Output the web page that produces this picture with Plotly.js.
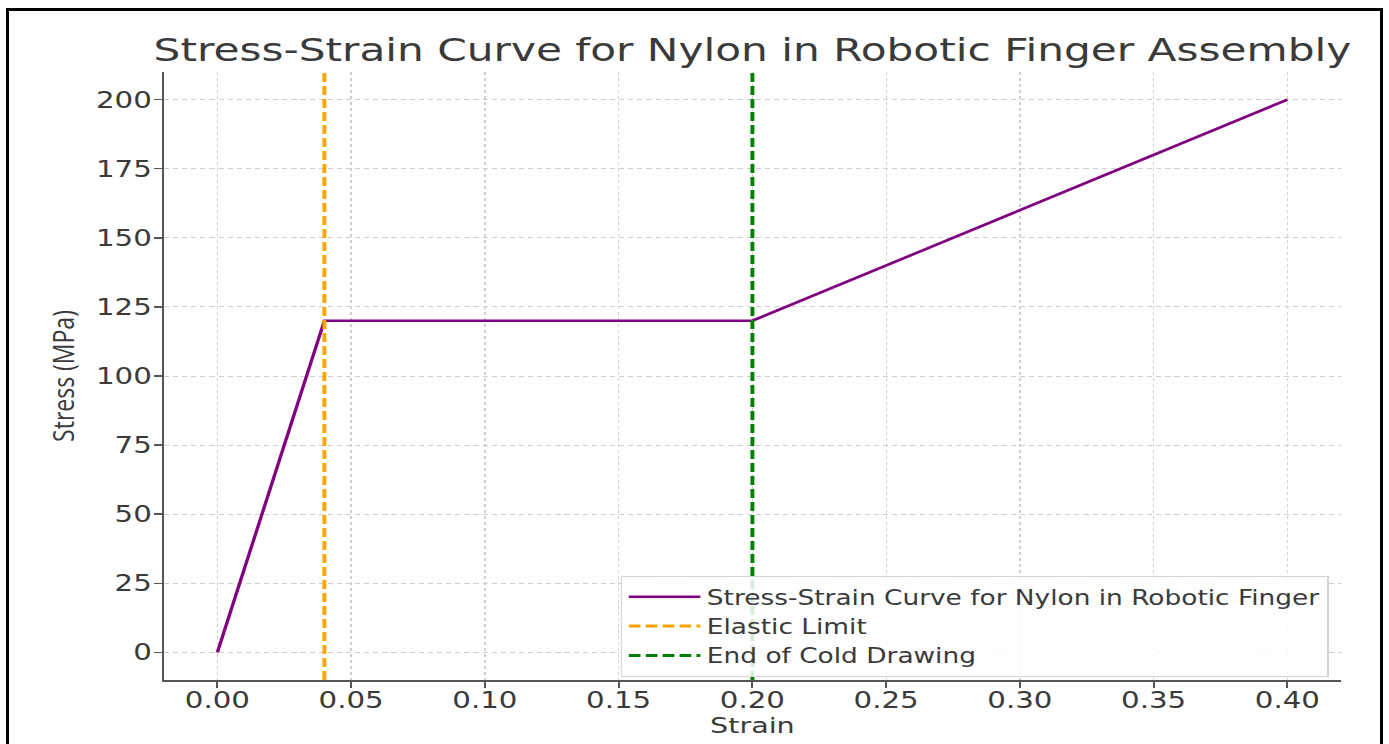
<!DOCTYPE html>
<html>
<head>
<meta charset="utf-8">
<script src="https://cdn.plot.ly/plotly-3.0.1.min.js"></script>
<style>
  html, body { margin: 0; padding: 0; background: #ffffff; overflow: hidden; }
  #wrap { position: relative; width: 1389px; height: 744px; overflow: hidden; background: #fff; }
  #chart { position: absolute; left: 0; top: 0; width: 1068px; height: 744px;
           transform: scaleX(1.3006); transform-origin: 0 0; }
  #frame { position: absolute; left: 6px; top: 8px; width: 1377px; height: 800px;
           border: 3px solid #000; box-sizing: border-box; pointer-events: none; }
</style>
</head>
<body>
<div id="wrap">
  <div id="chart"></div>
  <div id="frame"></div>
</div>
<script>
// ---- data ----
const strain = [0.0, 0.04, 0.20, 0.40];
const stress = [0, 120, 120, 200];
const elasticLimitStrain = 0.04;
const coldDrawingEndStrain = 0.20;
const curveName = "Stress-Strain Curve for Nylon in Robotic Finger";
const elasticName = "Elastic Limit";
const coldName = "End of Cold Drawing";
const xTickVals = [0.00, 0.05, 0.10, 0.15, 0.20, 0.25, 0.30, 0.35, 0.40];
const xTickText = ["0.00", "0.05", "0.10", "0.15", "0.20", "0.25", "0.30", "0.35", "0.40"];
const yTickVals = [0, 25, 50, 75, 100, 125, 150, 175, 200];
const xRange = [-0.02, 0.42];
const yRange = [-10, 210];

const textColor = "#3a3a3a";
const axisColor = "#555555";
const font = "DejaVu Sans, sans-serif";

const traces = [
  { x: strain, y: stress, type: "scatter", mode: "lines", name: curveName,
    line: { color: "#800080", width: 2.6 } },
  { x: [elasticLimitStrain, elasticLimitStrain], y: yRange, type: "scatter", mode: "lines",
    name: elasticName, line: { color: "#FFA500", width: 3, dash: "9px,4px" } },
  { x: [coldDrawingEndStrain, coldDrawingEndStrain], y: yRange, type: "scatter", mode: "lines",
    name: coldName, line: { color: "#008000", width: 3, dash: "9px,4px" } }
];

const layout = {
  width: 1068, height: 744,
  paper_bgcolor: "rgba(0,0,0,0)", plot_bgcolor: "#ffffff",
  margin: { l: 126, r: 37, t: 72, b: 64 },
  font: { family: font, color: textColor, size: 22 },
  title: { text: "Stress-Strain Curve for Nylon in Robotic Finger Assembly",
           font: { family: font, size: 32.5, color: textColor },
           x: 0.5, xref: "paper", xanchor: "center",
           y: 1 - 50 / 744, yref: "container", yanchor: "middle" },
  xaxis: {
    range: xRange, tickvals: xTickVals, ticktext: xTickText,
    showline: true, linecolor: axisColor, linewidth: 1.8, mirror: false,
    ticks: "outside", ticklen: 6, tickwidth: 1.5, tickcolor: axisColor,
    tickfont: { family: font, size: 22.5, color: textColor },
    ticklabelstandoff: -7,
    showgrid: true, gridcolor: "#cfcfcf", gridwidth: 1, griddash: "dot",
    zeroline: false,
    title: { text: "Strain", font: { family: font, size: 22, color: textColor }, standoff: 6 }
  },
  yaxis: {
    range: yRange, tickvals: yTickVals,
    showline: true, linecolor: axisColor, linewidth: 1.8, mirror: false,
    ticks: "outside", ticklen: 6, tickwidth: 1.5, tickcolor: axisColor,
    tickfont: { family: font, size: 22.5, color: textColor },
    ticklabelstandoff: -3,
    showgrid: true, gridcolor: "#cfcfcf", gridwidth: 1, griddash: "4px,3px",
    zeroline: false,
    title: { text: "Stress (MPa)", font: { family: "Open Sans, sans-serif", size: 23, color: textColor }, standoff: 10 }
  },
  legend: {
    x: 0.9895, xanchor: "right", xref: "paper",
    y: 0.088, yanchor: "middle", yref: "paper",
    bgcolor: "rgba(255,255,255,0.85)", bordercolor: "#d4d4d4", borderwidth: 1,
    font: { family: font, size: 20.3, color: textColor },
    itemwidth: 55, tracegroupgap: 0
  },
  showlegend: true
};

Plotly.newPlot("chart", traces, layout, { displayModeBar: false, staticPlot: true });
</script>
</body>
</html>
